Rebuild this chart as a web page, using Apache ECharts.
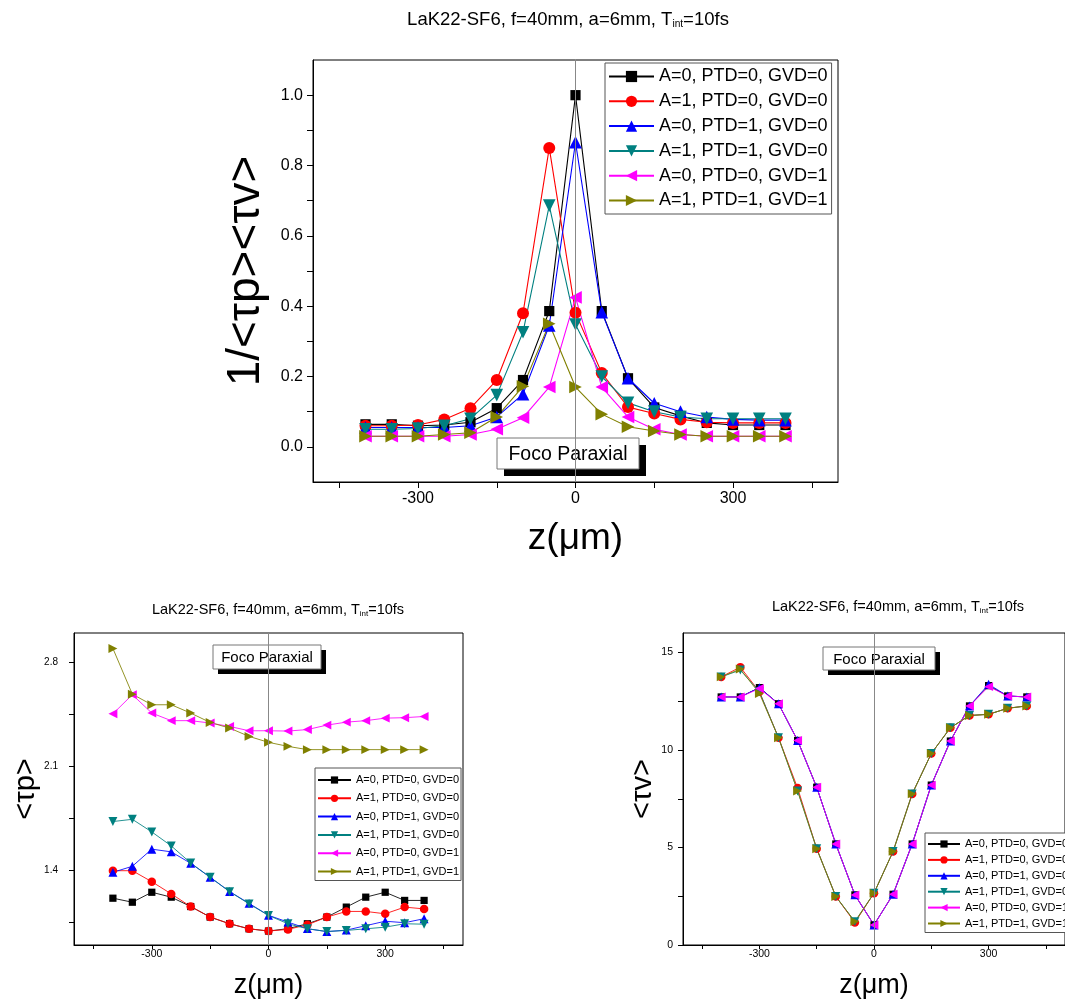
<!DOCTYPE html>
<html><head><meta charset="utf-8">
<script src="https://cdn.jsdelivr.net/npm/echarts/dist/echarts.min.js"></script>
<style>html,body{margin:0;padding:0;background:#fff}#c{width:1065px;height:1000px}</style>
</head><body><div id="c"></div>
<script>
// ---------- DATA ----------
const zValues = [-400,-350,-300,-250,-200,-150,-100,-50,0,50,100,150,200,250,300,350,400];
const seriesNames = ['A=0, PTD=0, GVD=0','A=1, PTD=0, GVD=0','A=0, PTD=1, GVD=0','A=1, PTD=1, GVD=0','A=0, PTD=0, GVD=1','A=1, PTD=1, GVD=1'];

// Top panel: 1/<τp><τv>
const inv_A0P0G0 = [0.064,0.064,0.060,0.062,0.070,0.110,0.190,0.386,1.000,0.386,0.195,0.112,0.088,0.068,0.062,0.062,0.062];
const inv_A1P0G0 = [0.060,0.060,0.062,0.078,0.110,0.190,0.380,0.850,0.381,0.210,0.113,0.095,0.078,0.070,0.068,0.068,0.068];
const inv_A0P1G0 = [0.055,0.055,0.055,0.055,0.060,0.085,0.150,0.345,0.866,0.383,0.195,0.124,0.100,0.085,0.078,0.076,0.076];
const inv_A1P1G0 = [0.050,0.050,0.052,0.060,0.080,0.147,0.326,0.686,0.348,0.200,0.125,0.100,0.085,0.080,0.080,0.080,0.080];
const inv_A0P0G1 = [0.030,0.030,0.030,0.030,0.035,0.050,0.083,0.170,0.425,0.170,0.085,0.050,0.035,0.030,0.030,0.030,0.030];
const inv_A1P1G1 = [0.030,0.030,0.030,0.035,0.040,0.085,0.172,0.350,0.170,0.093,0.057,0.045,0.035,0.030,0.030,0.030,0.030];

// Bottom-left panel: <τp>
const tp_A0P0G0 = [1.215,1.188,1.255,1.222,1.159,1.088,1.043,1.009,0.994,1.010,1.043,1.088,1.155,1.222,1.255,1.200,1.200];
const tp_A1P0G0 = [1.400,1.400,1.326,1.244,1.159,1.088,1.043,1.009,0.994,1.005,1.036,1.088,1.126,1.126,1.110,1.155,1.143];
const tp_A0P1G0 = [1.389,1.430,1.545,1.527,1.450,1.356,1.260,1.180,1.100,1.054,1.010,0.990,1.000,1.030,1.060,1.050,1.077];
const tp_A1P1G0 = [1.731,1.746,1.661,1.567,1.452,1.356,1.259,1.177,1.099,1.043,1.009,0.991,0.998,1.009,1.020,1.043,1.040];
const tp_A0P0G1 = [2.456,2.585,2.461,2.410,2.410,2.394,2.371,2.342,2.342,2.340,2.350,2.380,2.400,2.410,2.427,2.430,2.438];
const tp_A1P1G1 = [2.896,2.588,2.517,2.517,2.461,2.398,2.360,2.304,2.264,2.237,2.215,2.215,2.215,2.215,2.215,2.215,2.215];

// Bottom-right panel: <τv>
const tv_A0P0G0 = [12.72,12.72,13.20,12.37,10.49,8.09,5.18,2.57,1.03,2.60,5.18,8.20,10.46,12.26,13.30,12.77,12.72];
const tv_A1P0G0 = [13.75,14.25,12.99,10.63,8.05,4.94,2.49,1.15,2.66,4.80,7.75,9.82,11.14,11.77,11.83,12.14,12.26];
const tv_A0P1G0 = [12.72,12.72,13.20,12.37,10.49,8.09,5.18,2.57,1.03,2.60,5.18,8.20,10.46,12.26,13.37,12.77,12.72];
const tv_A1P1G0 = [13.75,14.10,12.99,10.63,7.90,4.94,2.49,1.20,2.66,4.80,7.75,9.82,11.14,11.77,11.83,12.14,12.26];
const tv_A0P0G1 = [12.72,12.72,13.15,12.37,10.49,8.09,5.18,2.57,1.03,2.60,5.18,8.20,10.46,12.26,13.25,12.77,12.72];
const tv_A1P1G1 = [13.75,14.15,12.90,10.63,7.90,4.94,2.49,1.20,2.66,4.80,7.75,9.82,11.14,11.77,11.83,12.14,12.26];

// Tick values / labels
const xTickValues = [-450,-300,-150,0,150,300,450];
const xLabelValues = [-300,0,300];
const invTickValues = [0,0.1,0.2,0.3,0.4,0.5,0.6,0.7,0.8,0.9,1.0];
const invLabelValues = [0,0.2,0.4,0.6,0.8,1.0];
const tpTickValues = [1.05,1.4,1.75,2.1,2.45,2.8];
const tpLabelValues = [1.4,2.1,2.8];
const tvTickValues = [0,2.5,5,7.5,10,12.5,15];
const tvLabelValues = [0,5,10,15];

const titleText = 'LaK22-SF6, f=40mm, a=6mm, T{s|int}=10fs';
const focoText = 'Foco Paraxial';

// ---------- STYLE ----------
const FF = '"Liberation Sans", Arial, sans-serif';
const looks = [
  {color:'#000000', symbol:'rect', rot:0, k:0.85},
  {color:'#ff0000', symbol:'circle', rot:0, k:1.0},
  {color:'#0000ff', symbol:'triangle', rot:0, k:1.05},
  {color:'#008080', symbol:'triangle', rot:180, k:1.05},
  {color:'#ff00ff', symbol:'triangle', rot:90, k:1.05},
  {color:'#808000', symbol:'triangle', rot:-90, k:1.05}
];
const panels = [
  {arrays:[inv_A0P0G0,inv_A1P0G0,inv_A0P1G0,inv_A1P1G0,inv_A0P0G1,inv_A1P1G1], size:12, lw:1.1},
  {arrays:[tp_A0P0G0,tp_A1P0G0,tp_A0P1G0,tp_A1P1G0,tp_A0P0G1,tp_A1P1G1], size:8.5, lw:1},
  {arrays:[tv_A0P0G0,tv_A1P0G0,tv_A0P1G0,tv_A1P1G0,tv_A0P0G1,tv_A1P1G1], size:8.5, lw:1}
];

const series = [];
panels.forEach((p, gi) => {
  p.arrays.forEach((arr, si) => {
    const lk = looks[si];
    const s = {
      type:'line', name:seriesNames[si], xAxisIndex:gi, yAxisIndex:gi,
      data: zValues.map((z,i)=>[z, arr[i]]),
      symbol: lk.symbol, symbolRotate: lk.rot, symbolSize: p.size*lk.k,
      showSymbol:true, showAllSymbol:true,
      itemStyle:{color:lk.color},
      lineStyle:{color:lk.color, width:p.lw, opacity: gi===0?1:0.85},
      emphasis:{disabled:true}
    };
    if (si===0) {
      s.markLine = {silent:true, symbol:'none', animation:false, label:{show:false},
        lineStyle:{color:'#888', width:1, type:'solid'}, data:[{xAxis:0}]};
    }
    series.push(s);
  });
});

function xAxisCfg(gi, fs, margin, name, nameFs, nameGap) {
  return {type:'value', gridIndex:gi, min:-500, max:500,
    axisLine:{show:true, onZero:false, lineStyle:{color:'#000', width:1}},
    axisTick:{show:true, customValues:xTickValues, length: gi===0?6:4, lineStyle:{color:'#000'}},
    axisLabel:{customValues:xLabelValues, fontSize:fs, fontFamily:FF, color:'#000', margin:margin, formatter:v=>String(v)},
    splitLine:{show:false},
    name:name, nameLocation:'middle', nameGap:nameGap,
    nameTextStyle:{fontSize:nameFs, fontFamily:FF, color:'#000'}};
}
function yAxisCfg(gi, min, max, ticks, labels, fmt, fs, margin, name, nameFs, nameGap) {
  return {type:'value', gridIndex:gi, min:min, max:max,
    axisLine:{show:true, onZero:false, lineStyle:{color:'#000', width:1}},
    axisTick:{show:true, customValues:ticks, length: gi===0?6:5, lineStyle:{color:'#000'}},
    axisLabel:{customValues:labels, fontSize:fs, fontFamily:FF, color:'#000', margin:margin, formatter:fmt},
    splitLine:{show:false},
    name:name, nameLocation:'middle', nameGap:nameGap, nameRotate:90,
    nameTextStyle:{fontSize:nameFs, fontFamily:FF, color:'#000'}};
}

function legendCfg(left, top, iw, ih, fs, gap, pad) {
  return {show:true, orient:'vertical', left:left, top:top, itemWidth:iw, itemHeight:ih, itemGap:gap,
    padding:pad, backgroundColor:'#fff', borderColor:'#555', borderWidth:1, borderRadius:0,
    symbolRotate:'inherit', selectedMode:false,
    textStyle:{fontSize:fs, fontFamily:FF, color:'#000', lineHeight:fs+1},
    data:seriesNames};
}

function focoBox(x, y, w, h, off, fs) {
  return {type:'group', z:1, children:[
    {type:'rect', z:1, shape:{x:x+off, y:y+off, width:w, height:h}, style:{fill:'#000'}},
    {type:'rect', z:1, shape:{x:x, y:y, width:w, height:h}, style:{fill:'#fff', stroke:'#777', lineWidth:1}},
    {type:'text', z:1, x:x+w/2, y:y+h/2+1, style:{text:focoText, fontSize:fs, fontFamily:FF, fill:'#000', align:'center', verticalAlign:'middle'}}
  ]};
}
function titleEl(cx, cy, fs) {
  return {type:'text', z:5, x:cx, y:cy, style:{text:titleText, fontSize:fs, fontFamily:FF, fill:'#000',
    align:'center', verticalAlign:'middle',
    rich:{s:{fontSize:fs*0.55, fontFamily:FF, fill:'#000', verticalAlign:'bottom'}}}};
}

const option = {
  animation:false,
  backgroundColor:'#fff',
  grid:[
    {left:313, top:60, width:525, height:422, show:true, borderColor:'#000', borderWidth:1, containLabel:false},
    {left:74, top:633, width:389, height:314, show:true, borderColor:'#000', borderWidth:1, containLabel:false},
    {left:683, top:633, width:387, height:314, show:true, borderColor:'#000', borderWidth:1, containLabel:false}
  ],
  xAxis:[
    xAxisCfg(0, 16, 9, 'z(μm)', 37, 38),
    xAxisCfg(1, 10.5, 4, 'z(μm)', 27, 27),
    xAxisCfg(2, 10.5, 4, 'z(μm)', 27, 27)
  ],
  yAxis:[
    yAxisCfg(0, -0.1, 1.1, invTickValues, invLabelValues, v=>v.toFixed(1), 16, 10, '1/<τp><τv>', 46, 44),
    yAxisCfg(1, 0.9, 3.0, tpTickValues, tpLabelValues, v=>v.toFixed(1), 10, 16, '<τp>', 29, 30),
    yAxisCfg(2, 0, 16, tvTickValues, tvLabelValues, v=>String(v), 10.5, 10, '<τv>', 29, 20)
  ],
  legend:[
    legendCfg(605, 63, 45, 14, 18, 5.8, [4,4,4,3]),
    legendCfg(315, 768, 33, 9, 11, 6.3, [6,2,3,2]),
    legendCfg(925, 833, 32, 9, 11, 3.9, [5,2,3,2])
  ],
  graphic:[
    titleEl(568, 20, 18.5),
    titleEl(278, 610, 14.5),
    titleEl(898, 607, 14.5),
    focoBox(497, 438, 142, 31, 7, 19.5),
    focoBox(213, 645, 108, 24, 5, 15),
    focoBox(823, 647, 112, 23, 5, 15)
  ],
  series:series
};

const chart = echarts.init(document.getElementById('c'), null, {renderer:'canvas'});
chart.setOption(option);
</script>
</body></html>
